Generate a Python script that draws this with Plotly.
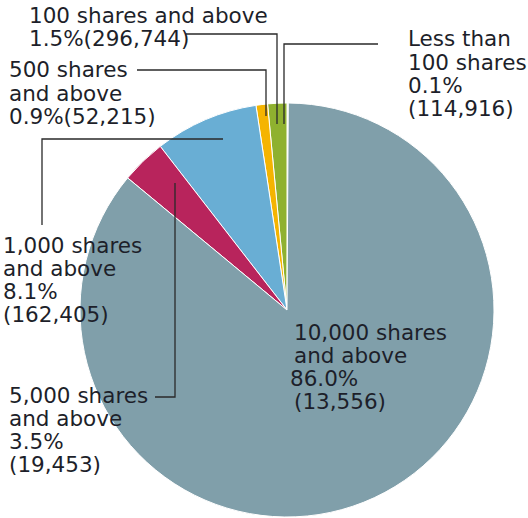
import plotly.graph_objects as go

# shareholder distribution by size of holding
categories = ["Less than 100 shares", "100 shares and above", "500 shares and above",
              "1,000 shares and above", "5,000 shares and above", "10,000 shares and above"]
percents = [0.1, 1.5, 0.9, 8.1, 3.5, 86.0]
holders = [114916, 296744, 52215, 162405, 19453, 13556]
colors = ["#dfe6e9", "#8fb12f", "#f5b400", "#69aed4", "#b8245c", "#809faa"]

W, H = 528, 518


def px(x):
    return x / W


def py(y):
    return 1 - y / H


# label lines: {p}=percent, {c}=holders
label_layout = [
    dict(x=406, y0=46, lines=["Less than", "100 shares", "{p}", "({c})"]),
    dict(x=27, y0=22, lines=["100 shares and above", "{p}({c})"]),
    dict(x=7, y0=77, lines=["500 shares", "and above", "{p}({c})"]),
    dict(x=1, y0=252, lines=["1,000 shares", "and above", "{p}", "({c})"]),
    dict(x=7, y0=402, lines=["5,000 shares", "and above", "{p}", "({c})"]),
    dict(x=292, y0=339, lines=["10,000 shares", "and above", "{p}", "({c})"]),
]
line_gap = 23.3

# leader lines (pixel polylines)
leaders = [
    [(378, 44), (284, 44), (284, 124)],
    [(186, 34), (277, 34), (277, 124)],
    [(137, 70), (266, 70), (266, 116)],
    [(223, 139), (42, 139), (42, 225)],
    [(175, 183), (175, 397), (155, 397)],
]

fig = go.Figure(go.Pie(
    labels=categories,
    values=percents,
    sort=False,
    direction="counterclockwise",
    rotation=0,
    textinfo="none",
    hoverinfo="label+percent",
    marker=dict(colors=colors, line=dict(color="white", width=1)),
    domain=dict(x=[px(80), px(494)], y=[py(517), py(103)]),
    showlegend=False,
))

annotations = []
for i, lay in enumerate(label_layout):
    for k, ln in enumerate(lay["lines"]):
        txt = ln.format(p=f"{percents[i]:.1f}%", c=f"{holders[i]:,}")
        xx = lay["x"]
        if i == 5 and ln == "{p}":
            xx = lay["x"] - 4
        annotations.append(dict(
            x=px(xx), y=py(lay["y0"] + k * line_gap - 7), xref="paper", yref="paper",
            text=txt, showarrow=False, xanchor="left", yanchor="middle",
            font=dict(family="DejaVu Sans", size=21.5, color="#1d1f2a"),
        ))

shapes = []
for pts in leaders:
    path = "M " + " L ".join(f"{px(a)},{py(b)}" for a, b in pts)
    shapes.append(dict(type="path", path=path, xref="paper", yref="paper",
                       line=dict(color="#2a2a2a", width=1.3)))

fig.update_layout(
    width=W, height=H,
    margin=dict(l=0, r=0, t=0, b=0),
    paper_bgcolor="white",
    annotations=annotations,
    shapes=shapes,
)

fig.write_html("out.html", config={"displayModeBar": False},
               post_script="document.body.style.margin='0';")
